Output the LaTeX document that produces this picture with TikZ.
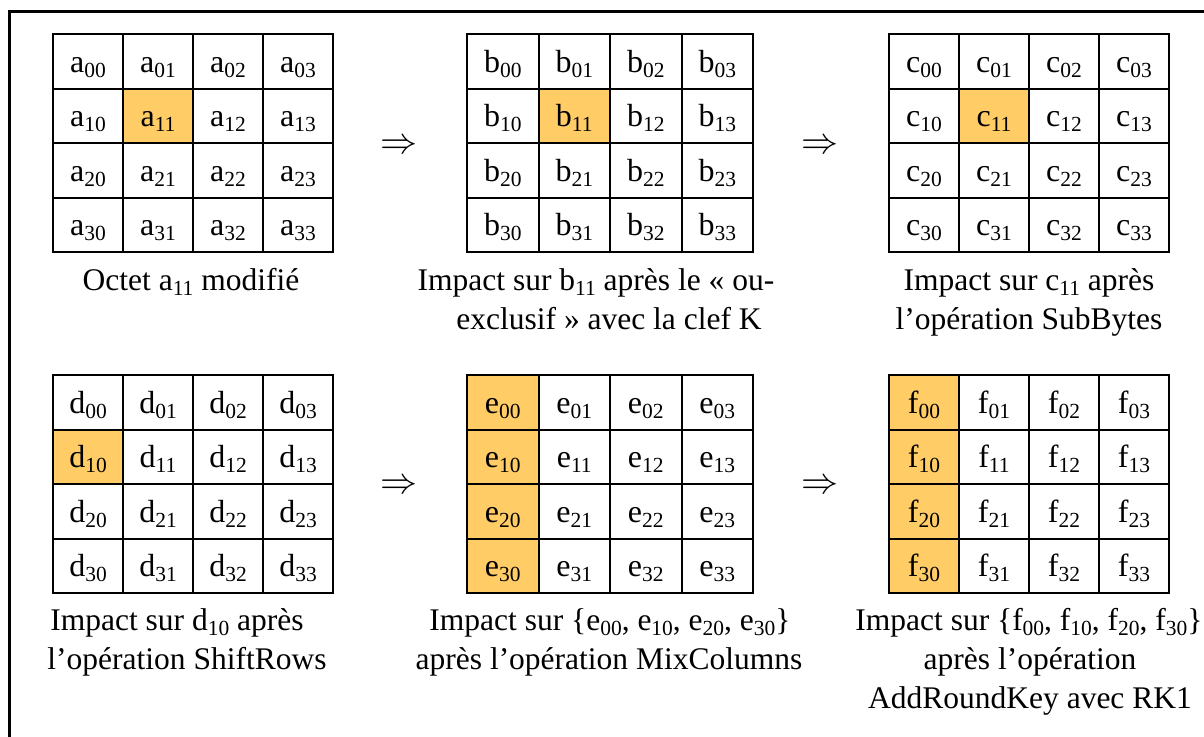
\documentclass[tikz,border=0pt]{standalone}
\usepackage{graphicx}
\usepackage{fontspec}
\setmainfont{Liberation Serif}
\definecolor{hl}{HTML}{FFCC66}
\newcommand\lsub[1]{\raisebox{-5pt}{\fontsize{21.5}{21.5}\selectfont #1}}
\newcommand\bigimplies{\scalebox{3.7}{$\Rightarrow$}}
\newcommand\stategrid[4]{% #1 letter, #2 left, #3 top, #4 cell width
  \foreach \i in {0,...,3}{
    \foreach \j in {0,...,3}{
      \node[cell, minimum width=#4pt, hlcell/#1\i\j/.try] (#1\i\j)
        at ({#2+(\j+0.5)*#4}, {#3+(\i+0.5)*54.5}) {#1\lsub{\i\j}};
    }
  }%
}
\tikzset{
  cell/.style={draw, line width=2pt, minimum height=54.5pt, inner sep=0pt,
    text height=21.5pt, text depth=0pt, font=\fontsize{32}{32}\selectfont},
  caption/.style={anchor=base, inner sep=0pt, font=\fontsize{31.5}{31.5}\selectfont},
  implies/.style={inner sep=0pt},
  hlcell/a11/.style={fill=hl},
  hlcell/b11/.style={fill=hl},
  hlcell/c11/.style={fill=hl},
  hlcell/d10/.style={fill=hl},
  hlcell/e00/.style={fill=hl},
  hlcell/e10/.style={fill=hl},
  hlcell/e20/.style={fill=hl},
  hlcell/e30/.style={fill=hl},
  hlcell/f00/.style={fill=hl},
  hlcell/f10/.style={fill=hl},
  hlcell/f20/.style={fill=hl},
  hlcell/f30/.style={fill=hl},
}
\begin{document}
\begin{tikzpicture}[x=1pt,y=-1pt]
\useasboundingbox (0,0) rectangle (1204,736);
\clip (0,0) rectangle (1204,736);
\fill[white] (0,0) rectangle (1204,736);
% outer frame
\coordinate (frameBL) at (9,760);
\coordinate (frameTL) at (9,11);
\coordinate (frameTR) at (1230,11);
\draw[line width=3pt] (frameBL) -- (frameTL) -- (frameTR);
% grids
\stategrid{a}{53}{34}{70}
\stategrid{b}{467}{34}{71.5}
\stategrid{c}{889}{34}{70}
\stategrid{d}{53}{375}{70}
\stategrid{e}{467}{375}{71.5}
\stategrid{f}{889}{375}{70}
% implication symbols
\node[implies] (ab) at (399,147) {\bigimplies};
\node[implies] (bc) at (820,147) {\bigimplies};
\node[implies] (de) at (399,487) {\bigimplies};
\node[implies] (ef) at (820,487) {\bigimplies};
% captions
\node[caption] (capA) at (191,290) {Octet a\lsub{11} modifié};
\node[caption] (capB1) at (596,290) {Impact sur b\lsub{11} après le « ou-};
\node[caption] (capB2) at (609,329) {exclusif » avec la clef K};
\node[caption] (capC1) at (1029,290) {Impact sur c\lsub{11} après};
\node[caption] (capC2) at (1029,329) {l’opération SubBytes};
\node[caption] (capD1) at (177,630) {Impact sur d\lsub{10} après};
\node[caption] (capD2) at (187,669) {l’opération ShiftRows};
\node[caption] (capE1) at (610,630) {Impact sur \{e\lsub{00}, e\lsub{10}, e\lsub{20}, e\lsub{30}\}};
\node[caption] (capE2) at (609,669) {après l’opération MixColumns};
\node[caption] (capF1) at (1029,630) {Impact sur \{f\lsub{00}, f\lsub{10}, f\lsub{20}, f\lsub{30}\}};
\node[caption] (capF2) at (1030,669) {après l’opération};
\node[caption] (capF3) at (1030,708) {AddRoundKey avec RK1};
\end{tikzpicture}
\end{document}
